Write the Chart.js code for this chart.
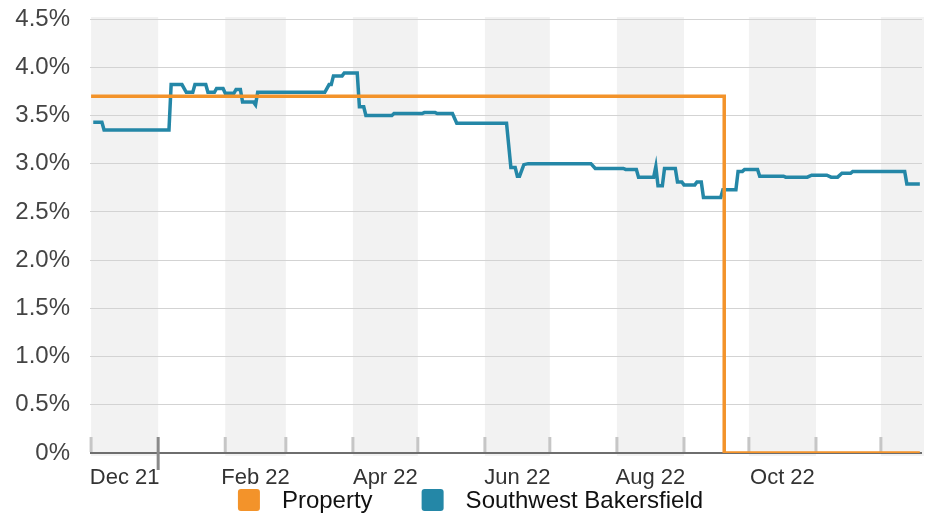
<!DOCTYPE html>
<html>
<head>
<meta charset="utf-8">
<script src="https://cdn.jsdelivr.net/npm/chart.js@4/dist/chart.umd.min.js"></script>
<style>
    html, body { margin: 0; padding: 0; background: #fff; }
    #wrap { width: 935px; height: 516px; position: relative; }
</style>
</head>
<body>
<div id="wrap"><canvas id="graficoTaxa"></canvas></div>
<script>
// ===== DADOS =====
// x = dias desde 1 dez 2021
const monthStarts = [0, 31, 62, 90, 121, 151, 182, 212, 243, 274, 304, 335, 365, 396];
const tickLabels = ['Dec 21', 'Feb 22', 'Apr 22', 'Jun 22', 'Aug 22', 'Oct 22'];
const yTicks = [0, 0.5, 1, 1.5, 2, 2.5, 3, 3.5, 4, 4.5];

const propDays = [0, 292.6, 383];
const propRates = [3.7, 0, 0];

const sbDays = [
    1, 5, 6, 36, 37, 42, 44, 47, 48, 53,
    54, 57, 58, 61, 62, 66, 67, 69, 70, 75,
    76, 77, 108, 110, 111, 112, 116, 117, 123, 124,
    126, 127, 139, 140, 153, 154, 159, 160, 167, 169,
    192, 194, 196, 197, 198, 200, 202, 231, 233, 246,
    247, 252, 253, 260, 261, 262, 264, 265, 270, 271,
    273, 274, 279, 280, 282, 283, 291, 292, 298, 299,
    301, 302, 308, 309, 320, 321, 331, 333, 340, 342,
    345, 347, 351, 352, 376, 377, 383
];
const sbRates = [
    3.43, 3.43, 3.35, 3.35, 3.82, 3.82, 3.74, 3.74, 3.82, 3.82,
    3.74, 3.74, 3.78, 3.78, 3.73, 3.73, 3.77, 3.77, 3.64, 3.64,
    3.61, 3.74, 3.74, 3.82, 3.82, 3.91, 3.91, 3.94, 3.94, 3.59,
    3.59, 3.50, 3.50, 3.52, 3.52, 3.53, 3.53, 3.52, 3.52, 3.42,
    3.42, 2.96, 2.96, 2.87, 2.87, 2.99, 3.00, 3.00, 2.95, 2.95,
    2.94, 2.94, 2.86, 2.86, 2.97, 2.77, 2.77, 2.95, 2.95, 2.81,
    2.81, 2.78, 2.78, 2.81, 2.81, 2.65, 2.65, 2.73, 2.73, 2.92,
    2.92, 2.94, 2.94, 2.87, 2.87, 2.86, 2.86, 2.88, 2.88, 2.86,
    2.86, 2.90, 2.90, 2.92, 2.92, 2.79, 2.79
];

const FONT = "'Liberation Sans', Arial, Helvetica, sans-serif";

// posição dos rótulos: meio dos meses pares
const tickDays = tickLabels.map((_, i) => (monthStarts[i * 2] + monthStarts[i * 2 + 1]) / 2);

// ===== FAIXAS + MARCAS DOS MESES =====
const faixas = {
    id: 'faixas',
    beforeDraw(chart) {
        const { ctx, chartArea, scales: { x } } = chart;
        ctx.save();
        ctx.fillStyle = '#f2f2f2';
        for (let i = 0; i < monthStarts.length - 1; i += 2) {
            const x1 = Math.max(x.getPixelForValue(monthStarts[i]), chartArea.left);
            const x2 = Math.min(x.getPixelForValue(monthStarts[i + 1]), chartArea.right + 2);
            if (x2 > x1) ctx.fillRect(x1, chartArea.top - 2, x2 - x1, chartArea.bottom - chartArea.top + 5);
        }
        ctx.restore();
    },
    beforeDatasetsDraw(chart) {
        const { ctx, chartArea, scales: { x } } = chart;
        const base = chartArea.bottom;
        ctx.save();
        ctx.lineWidth = 3;
        monthStarts.forEach((d, i) => {
            const px = x.getPixelForValue(d);
            if (px < chartArea.left - 2 || px > chartArea.right) return;
            if (i === 1) {
                // virada do ano
                ctx.strokeStyle = '#8a8a8a';
                ctx.beginPath();
                ctx.moveTo(px, base - 16);
                ctx.lineTo(px, base + 17);
                ctx.stroke();
            } else {
                ctx.strokeStyle = '#c6c6c6';
                ctx.beginPath();
                ctx.moveTo(px, base - 16);
                ctx.lineTo(px, base - 1);
                ctx.stroke();
            }
        });
        ctx.restore();
    }
};

// ===== LEGENDA =====
const legenda = {
    id: 'legenda',
    afterDraw(chart) {
        const ctx = chart.ctx;
        ctx.save();
        ctx.font = '24px ' + FONT;
        const box = 22, gapText = 22, gapItem = 49;
        const items = chart.data.datasets.map(ds => ({
            text: ds.label, color: ds.borderColor, w: ctx.measureText(ds.label).width
        }));
        const total = items.reduce((s, it) => s + box + gapText + it.w, 0) + gapItem * (items.length - 1);
        let x = chart.width / 2 + 3 - total / 2;
        const y = 500;
        items.forEach(it => {
            ctx.fillStyle = it.color;
            ctx.beginPath();
            ctx.roundRect(x, y - box / 2, box, box, 3);
            ctx.fill();
            ctx.fillStyle = '#111';
            ctx.textBaseline = 'middle';
            ctx.fillText(it.text, x + box + gapText, y + 1);
            x += box + gapText + it.w + gapItem;
        });
        ctx.restore();
    }
};

// ===== GRÁFICO =====
new Chart(document.getElementById('graficoTaxa'), {
    type: 'line',
    data: {
        datasets: [
            {
                label: 'Property',
                data: propDays.map((d, i) => ({ x: d, y: propRates[i] })),
                borderColor: '#f3932a',
                borderWidth: 3.5,
                pointRadius: 0,
                stepped: 'before'
            },
            {
                label: 'Southwest Bakersfield',
                data: sbDays.map((d, i) => ({ x: d, y: sbRates[i] })),
                borderColor: '#2487a7',
                borderWidth: 3.5,
                pointRadius: 0,
                tension: 0
            }
        ]
    },
    options: {
        responsive: true,
        maintainAspectRatio: false,
        animation: false,
        layout: { padding: { top: 0, right: 13, bottom: 23, left: 0 } },
        plugins: {
            legend: { display: false },
            tooltip: { enabled: false }
        },
        scales: {
            x: {
                type: 'linear',
                min: -0.5,
                max: 384,
                grid: { display: false, drawTicks: false },
                border: { display: false },
                afterBuildTicks: s => { s.ticks = tickDays.map(v => ({ value: v })); },
                afterFit: s => { s.height = 40; },
                ticks: {
                    autoSkip: false,
                    maxRotation: 0,
                    padding: 12,
                    color: '#333',
                    font: { family: FONT, size: 22 },
                    callback: (v, i) => tickLabels[i]
                }
            },
            y: {
                min: 0,
                max: 4.5,
                afterBuildTicks: s => { s.ticks = yTicks.map(v => ({ value: v })); },
                afterFit: s => { s.width = 90; s.paddingTop = 19; s.paddingBottom = 0; },
                grid: {
                    drawTicks: false,
                    color: c => c.tick.value === 0 ? '#6e6e6e' : '#d3d3d3',
                    lineWidth: c => c.tick.value === 0 ? 2 : 1
                },
                border: { display: false },
                ticks: {
                    padding: 20,
                    color: '#444',
                    font: { family: FONT, size: 24 },
                    callback: v => v === 0 ? '0%' : v.toFixed(1) + '%'
                }
            }
        }
    },
    plugins: [faixas, legenda]
});
</script>
</body>
</html>
